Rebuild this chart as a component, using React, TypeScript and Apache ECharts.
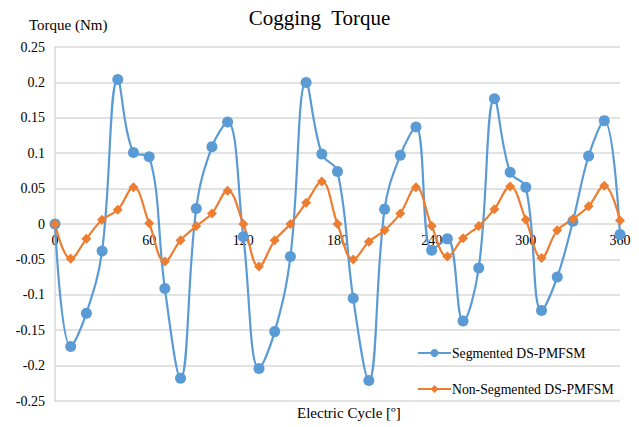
import React, { useEffect, useRef } from "react";
import * as echarts from "echarts";

const angles = [0, 10, 20, 30, 40, 50, 60, 70, 80, 90, 100, 110, 120, 130, 140, 150, 160, 170, 180, 190, 200, 210, 220, 230, 240, 250, 260, 270, 280, 290, 300, 310, 320, 330, 340, 350, 360];

const segmented = [
  0, -0.173, -0.126, -0.038, 0.204, 0.101, 0.095, -0.091, -0.218, 0.022, 0.109, 0.144,
  -0.018, -0.204, -0.152, -0.046, 0.2, 0.099, 0.074, -0.105, -0.221, 0.021, 0.097, 0.137,
  -0.037, -0.021, -0.137, -0.062, 0.177, 0.073, 0.052, -0.122, -0.075, 0.004, 0.096, 0.146,
  -0.015,
];

const nonSegmented = [
  0, -0.049, -0.021, 0.006, 0.02, 0.052, 0.001, -0.053, -0.023, -0.003, 0.015, 0.047,
  0, -0.06, -0.023, 0, 0.03, 0.06, 0, -0.05, -0.025, -0.009, 0.015, 0.052,
  -0.003, -0.046, -0.02, -0.003, 0.021, 0.053, 0.006, -0.048, -0.009, 0.007, 0.025, 0.054,
  0.005,
];

const seriesNames = ["Segmented DS-PMFSM", "Non-Segmented DS-PMFSM"];
const titleText = "Cogging  Torque";
const yTitle = "Torque (Nm)";
const xTitle = "Electric Cycle [º]";

const FONT = "'Liberation Serif', 'DejaVu Serif', serif";

export default function App() {
  const ref = useRef<HTMLDivElement>(null);
  useEffect(() => {
    if (!ref.current) return;
    const chart = echarts.init(ref.current, undefined, { renderer: "svg" });
    chart.setOption({
      animation: false,
      backgroundColor: "#ffffff",
      textStyle: { fontFamily: FONT },
      title: {
        text: titleText,
        left: "center",
        top: 2,
        textStyle: { fontFamily: FONT, fontSize: 21, fontWeight: "normal", color: "#000" },
      },
      graphic: [
        {
          type: "text",
          left: 29,
          top: 17,
          style: { text: yTitle, fontFamily: FONT, fontSize: 15, fill: "#000" },
        },
        {
          type: "text",
          left: 297,
          top: 405,
          style: { text: xTitle, fontFamily: FONT, fontSize: 15, fill: "#000" },
        },
      ],
      legend: {
        orient: "vertical",
        left: 417,
        top: 346,
        padding: 0,
        itemWidth: 33,
        itemHeight: 10,
        itemGap: 22,
        textStyle: { fontFamily: FONT, fontSize: 13.7, color: "#000", lineHeight: 14, padding: [0, 0, 0, -4] },
        data: seriesNames,
      },
      grid: { left: 55, right: 19, top: 47, bottom: 26, containLabel: false },
      xAxis: {
        type: "value",
        position: "bottom",
        offset: -177,
        min: 0,
        max: 360,
        interval: 60,
        axisLine: { show: false, onZero: false },
        axisTick: { show: false },
        splitLine: { show: false },
        axisLabel: { fontFamily: FONT, fontSize: 14, color: "#000", margin: 9 },
      },
      yAxis: {
        type: "value",
        min: -0.25,
        max: 0.25,
        interval: 0.05,
        axisLine: { show: true, onZero: false, lineStyle: { color: "#d9d9d9", width: 1.5 } },
        axisTick: { show: false },
        splitLine: { show: true, lineStyle: { color: "#d9d9d9", width: 1.5 } },
        axisLabel: {
          fontFamily: FONT,
          fontSize: 14,
          color: "#000",
          margin: 10,
          formatter: (v: number) => String(parseFloat(v.toFixed(2))),
        },
      },
      series: [
        {
          name: seriesNames[0],
          type: "line",
          data: angles.map((a, i) => [a, segmented[i]]),
          smooth: 0.4,
          symbol: "circle",
          symbolSize: 11,
          itemStyle: { color: "#5B9BD5" },
          lineStyle: { color: "#5B9BD5", width: 2.2 },
        },
        {
          name: seriesNames[1],
          type: "line",
          data: angles.map((a, i) => [a, nonSegmented[i]]),
          smooth: 0.4,
          symbol: "diamond",
          symbolSize: [10, 10],
          itemStyle: { color: "#ED7D31" },
          lineStyle: { color: "#ED7D31", width: 2.2 },
        },
      ],
    });
    return () => chart.dispose();
  }, []);
  return <div ref={ref} style={{ width: 639, height: 427, position: "fixed", left: 0, top: 0 }} />;
}
